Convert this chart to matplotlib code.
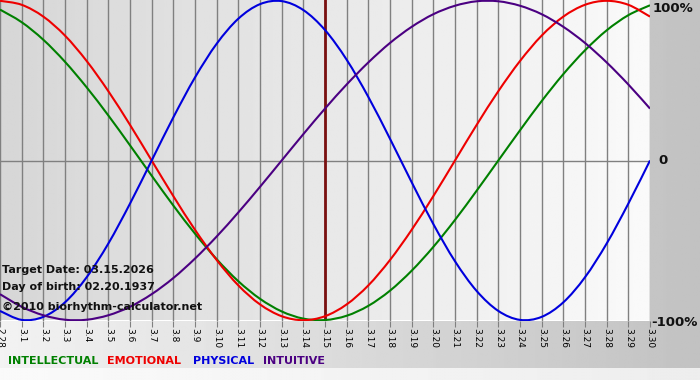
import numpy as np
from matplotlib import pyplot as plt
from matplotlib.path import Path
from matplotlib.patches import PathPatch

# day labels 2.28 .. 3.30
days = ["2.28"] + [f"3.{d}" for d in range(1, 31)]
target_idx = 15  # 3.15

# biorhythm values (-1..1) per day
intellectual = [0.945, 0.866, 0.756, 0.618, 0.458, 0.282, 0.095, -0.095, -0.282, -0.458,
                -0.618, -0.756, -0.866, -0.945, -0.990, -0.999, -0.972, -0.910, -0.815, -0.690,
                -0.541, -0.372, -0.189, 0.0, 0.189, 0.372, 0.541, 0.690, 0.815, 0.910, 0.972]
emotional = [1.0, 0.975, 0.901, 0.782, 0.623, 0.434, 0.223, 0.0, -0.223, -0.434,
             -0.623, -0.782, -0.901, -0.975, -1.0, -0.975, -0.901, -0.782, -0.623, -0.434,
             -0.223, 0.0, 0.223, 0.434, 0.623, 0.782, 0.901, 0.975, 1.0, 0.975, 0.901]
physical = [-0.942, -0.998, -0.979, -0.888, -0.731, -0.520, -0.270, 0.0, 0.270, 0.520,
            0.731, 0.888, 0.979, 0.998, 0.942, 0.817, 0.631, 0.398, 0.136, -0.136,
            -0.398, -0.631, -0.817, -0.942, -0.998, -0.979, -0.888, -0.731, -0.520, -0.270, 0.0]
intuitive = [-0.837, -0.916, -0.969, -0.997, -0.997, -0.969, -0.916, -0.837, -0.736, -0.614,
             -0.476, -0.325, -0.165, 0.0, 0.165, 0.325, 0.476, 0.614, 0.736, 0.837,
             0.916, 0.969, 0.997, 0.997, 0.969, 0.916, 0.837, 0.736, 0.614, 0.476, 0.325]

series = [("INTELLECTUAL", intellectual, "#008000"),
          ("EMOTIONAL", emotional, "#ee0000"),
          ("PHYSICAL", physical, "#0000dd"),
          ("INTUITIVE", intuitive, "#4b0082")]


def smooth_path(xs, ys):
    # catmull-rom through the points, drawn as bezier segments
    xs = np.asarray(xs, float)
    ys = np.asarray(ys, float)
    pts = np.column_stack([xs, ys])
    verts = [pts[0]]
    codes = [Path.MOVETO]
    n = len(pts)
    for i in range(n - 1):
        p0 = pts[i - 1] if i > 0 else pts[i]
        p1, p2 = pts[i], pts[i + 1]
        p3 = pts[i + 2] if i + 2 < n else pts[i + 1]
        verts += [p1 + (p2 - p0) / 6, p2 - (p3 - p1) / 6, p2]
        codes += [Path.CURVE4] * 3
    return Path(verts, codes)


W, H = 700, 380
fig = plt.figure(figsize=(7, 3.8), dpi=100)

# outer background gradient
bg = fig.add_axes([0, 0, 1, 1])
bg_img = np.tile(np.linspace(0.95, 0.76, 256), (64, 1))
bg.imshow(bg_img, cmap="gray", vmin=0, vmax=1, aspect="auto", extent=[0, 1, 0, 1])
strip = np.tile(np.linspace(0.98, 0.93, 256), (4, 1))
bg.imshow(strip, cmap="gray", vmin=0, vmax=1, aspect="auto", extent=[0, 1, 0, 12 / H])
bg.set_xlim(0, 1)
bg.set_ylim(0, 1)
bg.axis("off")

# main plot area
ax = fig.add_axes([0, 1 - 321 / H, 650 / W, 321 / H])
x = np.arange(len(days))
pgrad = np.tile(np.linspace(0.84, 0.98, 256), (8, 1))
ax.imshow(pgrad, cmap="gray", vmin=0, vmax=1, aspect="auto",
          extent=[0, len(days) - 1, -1, 1], zorder=0)

for xi in x:
    ax.axvline(xi, color="#808080", lw=1, zorder=1)
ax.axhline(0, color="#808080", lw=1, zorder=1)
ax.axvline(target_idx, color="#7a1010", lw=2, zorder=2)

for name, vals, col in series:
    ax.add_patch(PathPatch(smooth_path(x, vals), fill=False, edgecolor=col,
                           lw=1.5, zorder=3))

ax.set_xlim(0, len(days) - 1)
ax.set_ylim(-1.005, 1.005)
ax.set_yticks([])
ax.set_xticks(x)
ax.set_xticklabels(days, rotation=-90, fontsize=6.5, family="DejaVu Sans")
ax.tick_params(axis="x", length=4, color="#808080", pad=1)
for s in ax.spines.values():
    s.set_visible(False)

# right side labels
rfont = dict(fontsize=9.5, fontweight="bold", family="DejaVu Sans", color="#111111")
fig.text(653 / W, 1 - 8 / H, "100%", va="center", ha="left", **rfont)
fig.text(658 / W, 1 - 161 / H, "0", va="center", ha="left", **rfont)
fig.text(651 / W, 1 - 322 / H, "-100%", va="center", ha="left", **rfont)

# info text
tfont = dict(fontsize=8, fontweight="bold", family="DejaVu Sans", color="#111111")
ax.text(2 / 650, (321 - 270) / 321, "Target Date: 03.15.2026", transform=ax.transAxes,
        va="center", ha="left", **tfont)
ax.text(2 / 650, (321 - 287) / 321, "Day of birth: 02.20.1937", transform=ax.transAxes,
        va="center", ha="left", **tfont)
ax.text(2 / 650, (321 - 307) / 321, "\u00a92010 biorhythm-calculator.net", transform=ax.transAxes,
        va="center", ha="left", **tfont)

# legend row
lx = [8, 107, 193, 263]
for (name, vals, col), px in zip(series, lx):
    fig.text(px / W, 1 - 361 / H, name, color=col, fontsize=8, family="DejaVu Sans",
             fontweight="bold", va="center", ha="left")

fig.savefig("out.png", dpi=100)
